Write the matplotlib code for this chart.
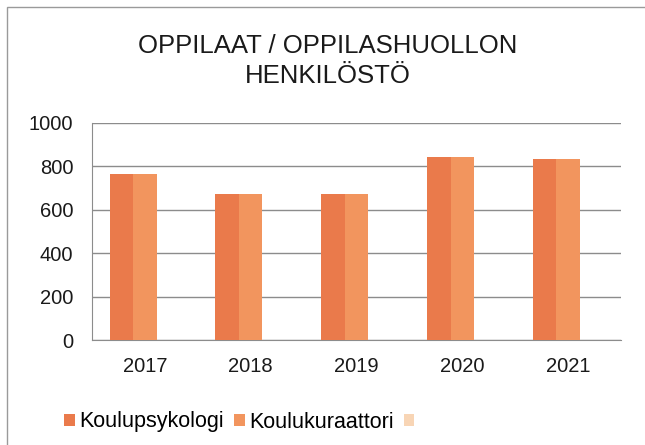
import matplotlib
matplotlib.use("Agg")
import matplotlib.pyplot as plt
from matplotlib.patches import Patch, Rectangle
import numpy as np

plt.rcParams['font.family'] = ['Liberation Sans', 'DejaVu Sans']

title = "OPPILAAT / OPPILASHUOLLON\nHENKILÖSTÖ"
years = ["2017", "2018", "2019", "2020", "2021"]
series_names = ["Koulupsykologi", "Koulukuraattori", ""]
koulupsykologi = [765, 671, 672, 840, 831]
koulukuraattori = [765, 671, 672, 840, 831]
third = [0, 0, 0, 0, 0]
yticks = [0, 200, 400, 600, 800, 1000]
colors = ["#EA7A4B", "#F2955E", "#F8D5B5"]

fig = plt.figure(figsize=(6.45, 4.45), dpi=100)
fig.patch.set_facecolor("white")
# outer chart frame (extends beyond image right/bottom)
fig.patches.append(Rectangle((7/645, -0.05), 1.2, 1 - 7/445 + 0.05,
                             transform=fig.transFigure, fill=False,
                             edgecolor="#9a9a9a", linewidth=1.0))

ax = fig.add_axes([92/645, 1 - 340/445, 529/645, (340 - 122.7)/445])
x = np.arange(len(years))
w = 0.222
all_series = [koulupsykologi, koulukuraattori, third]
for i, (vals, c) in enumerate(zip(all_series, colors)):
    ax.bar(x + (i - 1) * w, vals, width=w, color=c, zorder=3, linewidth=0)

ax.set_xlim(-0.5, len(years) - 0.5)
ax.set_ylim(0, 1000)
ax.set_yticks(yticks)
ax.set_xticks(x)
ax.set_xticklabels(years)
ax.yaxis.grid(True, color="#8c8c8c", linewidth=1.0, zorder=0)
ax.set_axisbelow(True)
for s in ["top", "right"]:
    ax.spines[s].set_visible(False)
ax.spines["left"].set_color("#8c8c8c")
ax.spines["bottom"].set_color("#8c8c8c")
ax.tick_params(axis="both", length=0, labelsize=14.5, colors="#1a1a1a")
ax.tick_params(axis="y", pad=13.5)
ax.tick_params(axis="x", pad=12)

fig.text(0.508, 1 - 61/445, title, ha="center", va="center",
         fontsize=18.5, color="#1a1a1a", linespacing=1.28)

handles = [Patch(facecolor=c, edgecolor="none") for c in colors]
fig.legend(handles, series_names, loc="center left",
           bbox_to_anchor=(64/645, 1 - 422/445), ncol=3, frameon=False,
           fontsize=15.5, handlelength=0.5, handleheight=0.5,
           handletextpad=0.22, columnspacing=0.45, borderaxespad=0,
           borderpad=0)

fig.savefig("out.png", dpi=100)
